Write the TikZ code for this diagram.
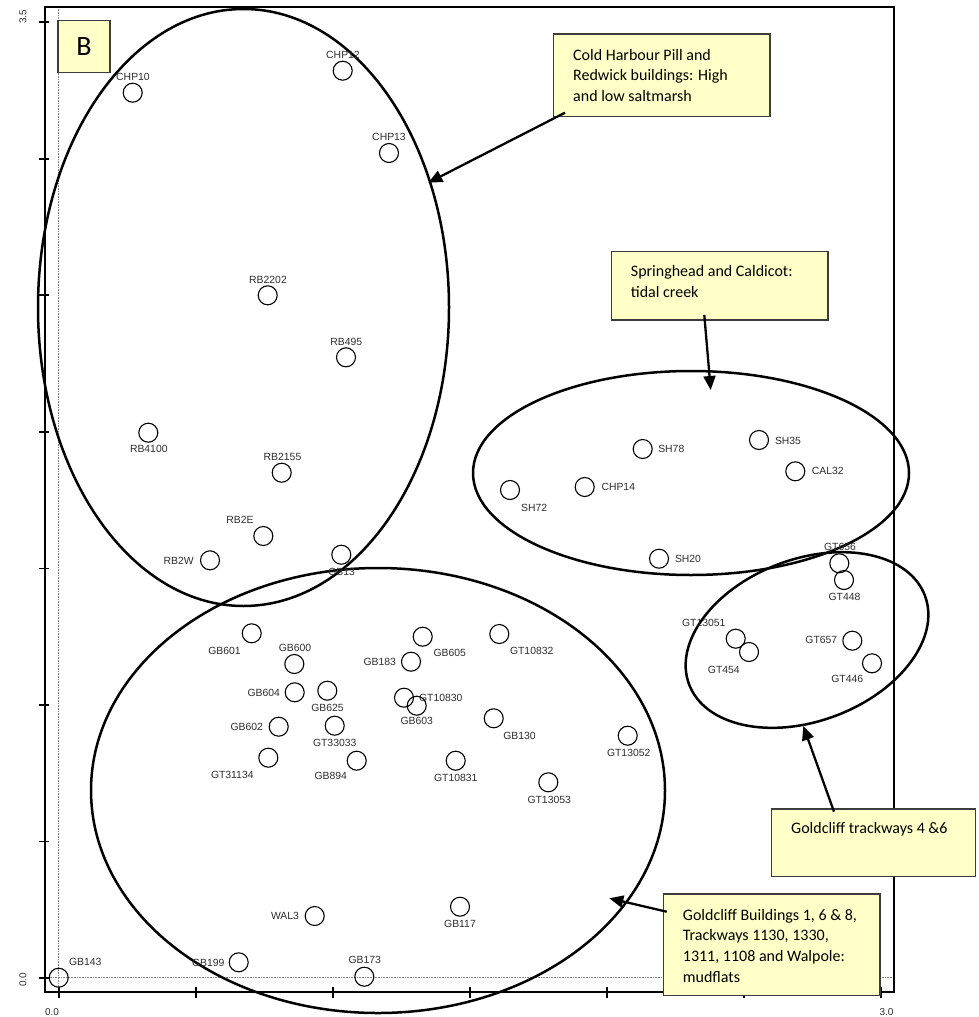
\documentclass[tikz,border=0pt]{standalone}
\usepackage{fontspec}
\setmainfont{Liberation Sans}
\newfontfamily\callfont{Carlito}
\usetikzlibrary{arrows.meta,shapes.geometric}
\definecolor{boxfill}{RGB}{255,255,200}
\definecolor{boxline}{RGB}{60,60,60}
\definecolor{labcol}{RGB}{45,45,45}
\begin{document}
\begin{tikzpicture}[x=1pt,y=-1pt,
  frame/.style={line width=2.2pt},
  zeroline/.style={gray,line width=0.6pt,densely dotted},
  tick/.style={line width=1.8pt},
  axlab/.style={font=\fontsize{10}{11}\selectfont,text=labcol,inner sep=0},
  ell/.style={draw,ellipse,inner sep=0,outer sep=0,line width=2.5pt},
  pt/.style={draw,circle,minimum size=19pt,inner sep=0,line width=1.1pt},
  lab/.style={font=\fontsize{10.4}{12}\selectfont,text=labcol,inner sep=0},
  cbox/.style={draw=boxline,fill=boxfill,line width=1.2pt,inner sep=0,anchor=north west},
  ctext/.style={font=\callfont\fontsize{16}{20.7}\selectfont,align=left,inner sep=0,anchor=north west},
  arr/.style={line width=2.3pt,-{Triangle[length=14pt,width=12pt]}}]
\useasboundingbox (0,0) rectangle (978,1017);
% frame and zero lines
\draw[zeroline] (58.7,7) -- (58.7,992);
\draw[zeroline] (45,977.7) -- (894,977.7);
\draw[frame] (45,7) -- (894,7) -- (894,992) -- (45,992) -- cycle;
\foreach \yy in {21.7,158.7,295.2,431.8,568.5,705,841.5,977.7}
  \draw[tick] (39,\yy) -- (49,\yy);
\foreach \xx in {58.7,195.8,332.8,469.9,606.9,744,881}
  \draw[tick] (\xx,987) -- (\xx,998);
\node[axlab,rotate=90] (ax35) at (23,17) {3.5};
\node[axlab,rotate=90] (ax00y) at (23,980) {0.0};
\node[axlab] (ax00x) at (52,1012.5) {0.0};
\node[axlab] (ax30x) at (886.5,1012.5) {3.0};
% ellipses
\node[ell,minimum width=411pt,minimum height=597pt] (ECHP) at (243.5,307.5) {};
\node[ell,minimum width=436pt,minimum height=204pt] (ESH) at (691,473) {};
\node[ell,minimum width=252pt,minimum height=162pt,rotate=20.6] (EGT) at (807,640) {};
\node[ell,minimum width=574pt,minimum height=445pt] (EGB) at (378,790.5) {};
% points
\foreach \n/\x/\y/\lx/\ly in {
  CHP10/132.7/92.7/133/76.5,
  CHP12/342.7/70.7/343/54.7,
  CHP13/389/153/389/136.5,
  RB2202/267.7/295.3/268/279.5,
  RB495/346/357.3/346.2/341.7,
  RB4100/148.3/432.7/148.8/449.2,
  RB2155/281.7/472.7/282.5/456.5,
  RB2E/263.3/536/240/520.2,
  RB2W/210/560.3/178.7/560.5,
  GB13/341.3/554.7/341.7/571.7,
  GB601/251.7/633.3/224.5/650.8,
  GB600/294.3/664/295/647.5,
  GB604/294.7/692.3/263.7/693.2,
  GB625/327.3/690.7/327.5/707.5,
  GB602/278.7/726.7/246.7/726.5,
  GT33033/334.7/725.7/334.7/743.2,
  GT31134/268.3/757.7/232.3/775.2,
  GB894/356.7/760.7/330.8/775.8,
  GB183/411/661.7/379.7/661.5,
  GB605/422.7/636.7/449.7/653.2,
  GT10832/499.3/634/531.7/650.5,
  GT10830/404/697.7/440.8/697.8,
  GB603/416.7/705.7/416.7/720.8,
  GB130/493.7/718.3/519.5/735.8,
  GT10831/455.7/760.7/455.8/777.8,
  GT13053/548.3/782.3/549.2/800.2,
  GT13052/627.7/735.7/628.7/752.5,
  SH72/510/490/534.2/507.7,
  CHP14/584.7/487/618.3/487.2,
  SH78/642.7/449/671.3/449.2,
  SH35/759/440/788/441.2,
  CAL32/795.3/471.3/827.8/471.2,
  SH20/659/558.7/688/558.5,
  GT656/839.3/563.3/840/546.5,
  GT448/844/580/844.5/596.5,
  GT13051/735.7/638.7/703.8/622.5,
  GT454/749/652/723.8/670,
  GT657/852.3/640.7/821.3/640.2,
  GT446/872/663.3/847.2/679.2,
  WAL3/314.7/916/285/916.2,
  GB199/238.7/962.3/208.3/962.5,
  GB143/58.7/977.7/85.3/961.7,
  GB117/460/906.7/460/924.2,
  GB173/364.3/976.7/364.7/960.2}
{
  \node[pt] (p\n) at (\x,\y) {};
  \node[lab] (l\n) at (\lx,\ly) {\n};
}
% callout boxes
\node[cbox,minimum width=52pt,minimum height=51.7pt,font=\callfont\fontsize{28}{28}\selectfont] (bB) at (57.3,20) {B};
\node[cbox,minimum width=216.6pt,minimum height=82.7pt] (bCH) at (552.7,33.3) {};
\node[ctext] (tCH) at (573,48.8) {Cold Harbour Pill and\\Redwick buildings: High\\and low saltmarsh};
\node[cbox,minimum width=216.6pt,minimum height=68.6pt] (bSH) at (610.7,250.7) {};
\node[ctext] (tSH) at (630.7,265.5) {Springhead and Caldicot:\\tidal creek};
\node[cbox,minimum width=204.3pt,minimum height=67.4pt] (bGT) at (770.7,808.3) {};
\node[ctext] (tGT) at (791,822) {Goldcliff trackways 4 \&6};
\node[cbox,minimum width=216.6pt,minimum height=101.7pt] (bGB) at (662.7,893.3) {};
\node[ctext] (tGB) at (682.7,908.8) {Goldcliff Buildings 1, 6 \& 8,\\Trackways 1130, 1330,\\1311, 1108 and Walpole:\\mudflats};
% arrows
\coordinate (a1s) at (565,112.7);
\coordinate (a1e) at (428.3,182.7);
\coordinate (a2s) at (704.3,315);
\coordinate (a2e) at (710.7,390);
\coordinate (a3s) at (834,811.7);
\coordinate (a3e) at (803.3,726);
\coordinate (a4s) at (666.7,911.7);
\coordinate (a4e) at (609.3,898.3);
\draw[arr] (a1s) -- (a1e);
\draw[arr] (a2s) -- (a2e);
\draw[arr] (a3s) -- (a3e);
\draw[arr] (a4s) -- (a4e);
\end{tikzpicture}
\end{document}
